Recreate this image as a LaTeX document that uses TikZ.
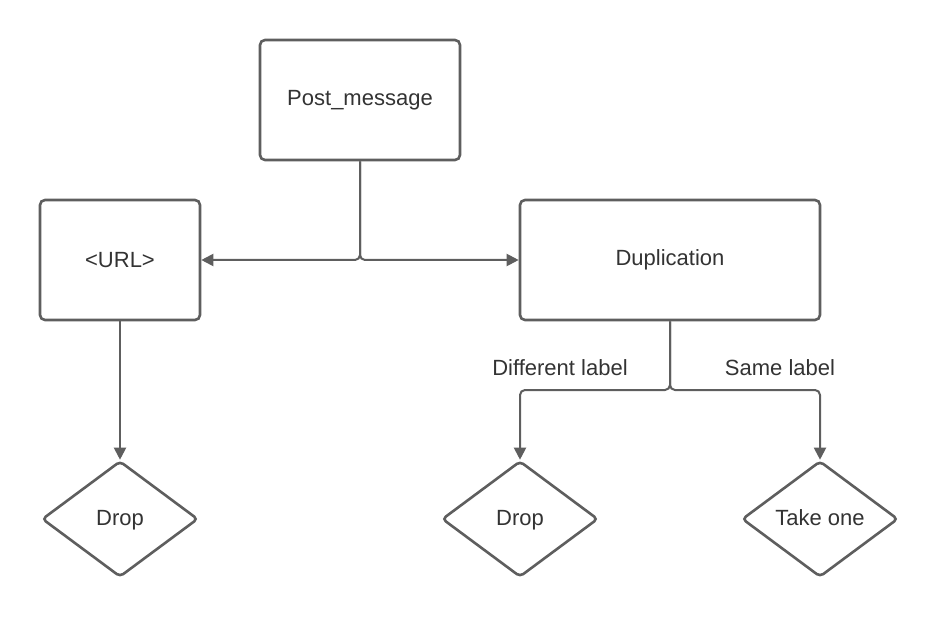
\documentclass[tikz,border=0pt]{standalone}
\usepackage{fontspec}
\setmainfont{Liberation Sans}
\usetikzlibrary{shapes.geometric,arrows.meta}
\definecolor{linec}{HTML}{5E5E5E}
\definecolor{textc}{HTML}{333333}
\begin{document}
\begin{tikzpicture}[x=1pt,y=-1pt,
  txt/.style={text=textc,font=\fontsize{22}{26}\selectfont},
  box/.style={txt,draw=linec,line width=2.6pt,rounded corners=5pt,fill=white,inner sep=0pt},
  dia/.style={txt,draw=linec,line width=2.6pt,diamond,rounded corners=4pt,fill=white,
    minimum width=156pt,minimum height=116pt,inner sep=0pt,text height=16pt,text depth=4pt},
  conn/.style={draw=linec,line width=2pt,rounded corners=5pt,
    -{Triangle[length=12pt,width=12pt]}},
  lab/.style={txt,inner sep=0pt}]
\useasboundingbox (0,0) rectangle (940,620);
\node[box,minimum width=200pt,minimum height=120pt] (post) at (360,100) {Post\_message};
\node[box,minimum width=160pt,minimum height=120pt] (url) at (120,260) {<URL>};
\node[box,minimum width=300pt,minimum height=120pt] (dup) at (670,260) {Duplication};
\node[dia] (drop1) at (120,519) {Drop};
\node[dia] (drop2) at (520,519) {Drop};
\node[dia] (take) at (820,519) {Take one};
\draw[conn] (post.south) |- (url.east);
\draw[conn] (post.south) |- (dup.west);
\draw[conn] (url.south) -- (drop1.north);
\draw[conn] (dup.south) |- (595,390) -| (drop2.north);
\draw[conn] (dup.south) |- (745,390) -| (take.north);
\node[lab] (l1) at (560,368) {Different label};
\node[lab] (l2) at (780,368) {Same label};
\end{tikzpicture}
\end{document}
